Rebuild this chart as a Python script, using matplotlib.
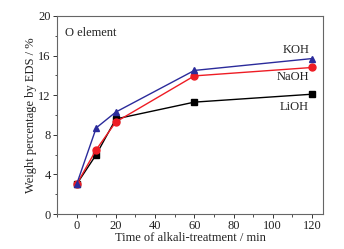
import matplotlib
matplotlib.use("Agg")
import matplotlib.pyplot as plt
from matplotlib.ticker import MultipleLocator

plt.rcParams['font.family'] = ['Liberation Serif', 'DejaVu Serif']

time = [0, 10, 20, 60, 120]
koh = [3.0, 8.7, 10.3, 14.5, 15.7]
naoh = [3.0, 6.5, 9.3, 13.95, 14.8]
lioh = [3.0, 6.0, 9.6, 11.3, 12.1]

fs = 9
fig = plt.figure(figsize=(3.44, 2.49), dpi=100)
ax = fig.add_axes([57/344, 35/249, 266/344, 198/249])

ax.plot(time, lioh, color='black', marker='s', markersize=4.5, lw=1.0)
ax.plot(time, naoh, color='#ee1c24', marker='o', markersize=5, lw=1.0)
ax.plot(time, koh, color='#2b2b9b', marker='^', markersize=5, lw=1.0)

ax.set_xlim(-10, 125.6)
ax.set_ylim(0, 20)
ax.xaxis.set_major_locator(MultipleLocator(20))
ax.xaxis.set_minor_locator(MultipleLocator(10))
ax.yaxis.set_major_locator(MultipleLocator(4))
ax.yaxis.set_minor_locator(MultipleLocator(2))
ax.tick_params(which='major', direction='out', length=3, width=0.7, labelsize=fs, colors='#333333', labelcolor='#222222', pad=1.5)
ax.tick_params(which='minor', direction='out', length=1.8, width=0.6, colors='#333333')
for s in ax.spines.values():
    s.set_color('#666666')
    s.set_linewidth(0.8)

ax.set_xlabel('Time of alkali-treatment / min', fontsize=fs, color='#222222', labelpad=0)
ax.set_ylabel('Weight percentage by EDS / %', fontsize=fs, color='#222222', labelpad=1)

ax.text(-6.1, 18.3, 'O element', fontsize=fs, ha='left', va='center', color='#222222')
ax.text(118.5, 16.6, 'KOH', fontsize=fs, ha='right', va='center', color='#222222')
ax.text(118.5, 13.8, 'NaOH', fontsize=fs, ha='right', va='center', color='#222222')
ax.text(118.5, 10.8, 'LiOH', fontsize=fs, ha='right', va='center', color='#222222')

fig.savefig('out.png', dpi=100)
